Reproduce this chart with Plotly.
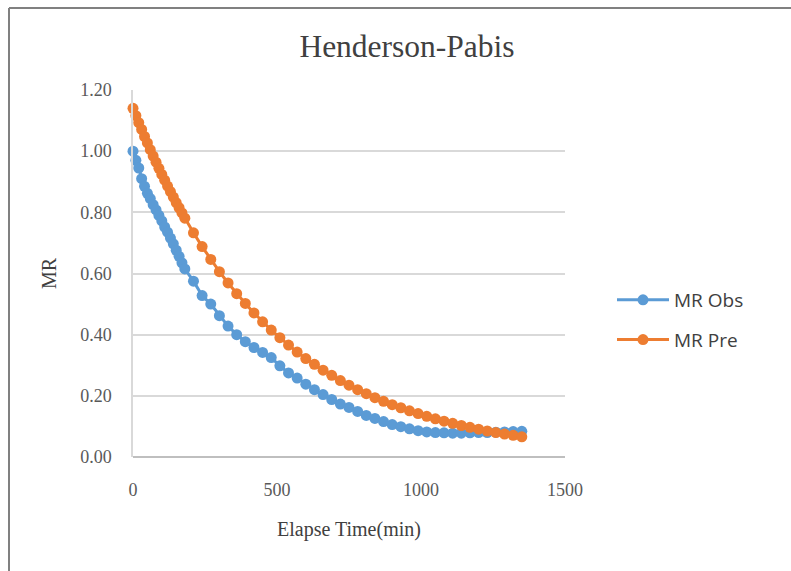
import plotly.graph_objects as go

# ---- data ----
elapse_time = [0, 10, 20, 30, 40, 50, 60, 70, 80, 90, 100, 110, 120, 130, 140, 150, 160, 170, 180,
               210, 240, 270, 300, 330, 360, 390, 420, 450, 480, 510, 540, 570, 600, 630, 660, 690,
               720, 750, 780, 810, 840, 870, 900, 930, 960, 990, 1020, 1050, 1080, 1110, 1140, 1170,
               1200, 1230, 1260, 1290, 1320, 1350]

mr_obs = [1.000, 0.970, 0.945, 0.910, 0.885, 0.862, 0.845, 0.825, 0.808, 0.790, 0.772, 0.752, 0.735,
          0.716, 0.697, 0.676, 0.656, 0.635, 0.615,
          0.575, 0.528, 0.500, 0.462, 0.428, 0.400, 0.377, 0.358, 0.342, 0.325, 0.298, 0.275, 0.258,
          0.238, 0.220, 0.204, 0.188, 0.173, 0.162, 0.149, 0.136, 0.126, 0.116, 0.106, 0.099, 0.092,
          0.086, 0.082, 0.080, 0.079, 0.078, 0.078, 0.079, 0.080, 0.080, 0.081, 0.082, 0.083, 0.084]

mr_pre = [1.140, 1.116, 1.093, 1.071, 1.048, 1.027, 1.005, 0.984, 0.964, 0.944, 0.924, 0.905, 0.886,
          0.868, 0.850, 0.832, 0.815, 0.798, 0.781,
          0.733, 0.688, 0.646, 0.606, 0.569, 0.534, 0.502, 0.471, 0.442, 0.415, 0.390, 0.366, 0.343,
          0.322, 0.303, 0.284, 0.267, 0.250, 0.235, 0.220, 0.207, 0.194, 0.182, 0.171, 0.161, 0.151,
          0.142, 0.133, 0.125, 0.117, 0.110, 0.103, 0.097, 0.091, 0.085, 0.080, 0.075, 0.071, 0.066]

series_names = ["MR Obs", "MR Pre"]
chart_title = "Henderson-Pabis"
x_title = "Elapse Time(min)"
y_title = "MR"

# ---- layout constants ----
W, H = 791, 571
ML, MR_, MT, MB = 133, 226, 90, 114
PW, PH = W - ML - MR_, H - MT - MB

BLUE = "#5B9BD5"
ORANGE = "#ED7D31"
SERIF = "Liberation Serif, Times New Roman, serif"
SANS = "Open Sans, Liberation Sans, sans-serif"

fig = go.Figure()
for i, (name, ys, col) in enumerate(zip(series_names, [mr_obs, mr_pre], [BLUE, ORANGE])):
    fig.add_trace(go.Scatter(
        x=elapse_time, y=ys, name=name, mode="lines+markers",
        line=dict(color=col, width=3),
        marker=dict(color=col, size=11, symbol="circle"),
        cliponaxis=False, legendgroup=name,
    ))

def px_to_paper_x(px):
    return (px - ML) / PW

def px_to_paper_y(py):
    return (H - MB - py) / PH

# outer frame (left and top border lines of the screenshot)
fig.add_shape(type="line", xref="paper", yref="paper",
              x0=px_to_paper_x(9), x1=px_to_paper_x(9),
              y0=px_to_paper_y(8), y1=px_to_paper_y(H + 5),
              line=dict(color="#808080", width=2))
fig.add_shape(type="line", xref="paper", yref="paper",
              x0=px_to_paper_x(9), x1=px_to_paper_x(W + 5),
              y0=px_to_paper_y(8), y1=px_to_paper_y(8),
              line=dict(color="#808080", width=2))

fig.update_layout(
    width=W, height=H,
    margin=dict(l=ML, r=MR_, t=MT, b=MB, pad=0),
    paper_bgcolor="white", plot_bgcolor="white",
    title=dict(text=chart_title, x=407 / W, xref="container", xanchor="center",
               y=1 - 46 / H, yref="container", yanchor="middle",
               font=dict(family=SERIF, size=31.5, color="#404040")),
    showlegend=True,
    legend=dict(x=px_to_paper_x(612), xanchor="left", y=px_to_paper_y(320), yanchor="middle",
                font=dict(family=SANS, size=19, color="#404040"),
                itemwidth=52,
                traceorder="grouped", tracegroupgap=12, bgcolor="rgba(0,0,0,0)"),
    xaxis=dict(range=[0, 1500], dtick=500, tick0=0, showgrid=False, zeroline=False,
               showline=False, ticks="", ticklabelstandoff=20,
               tickfont=dict(family=SERIF, size=18, color="#595959"),
               title=dict(text=x_title, standoff=22,
                          font=dict(family=SERIF, size=20, color="#404040"))),
    yaxis=dict(range=[0, 1.2], dtick=0.2, tick0=0, tickformat=".2f",
               showgrid=True, gridcolor="#D9D9D9", gridwidth=1.5,
               zeroline=True, zerolinecolor="#BFBFBF", zerolinewidth=1.5,
               showline=True, linecolor="#D9D9D9", linewidth=1.5, ticks="",
               ticklabelstandoff=16,
               tickfont=dict(family=SERIF, size=18, color="#595959"),
               title=dict(text=y_title, standoff=18,
                          font=dict(family=SERIF, size=20, color="#404040"))),
)

fig.write_html("out.html")
